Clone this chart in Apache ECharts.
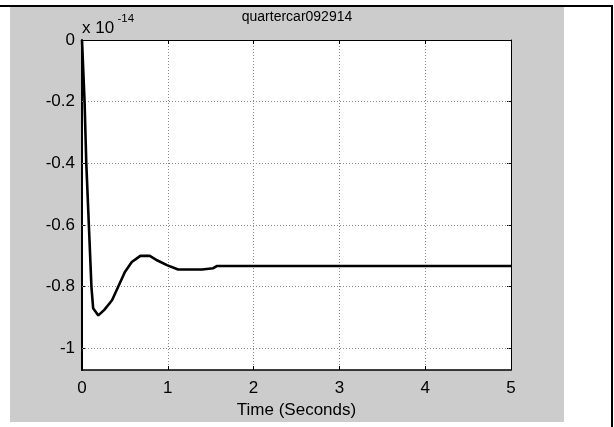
<!DOCTYPE html>
<html>
<head>
<meta charset="utf-8">
<script src="https://cdn.jsdelivr.net/npm/echarts@6/dist/echarts.min.js"></script>
<style>
  html, body { margin: 0; padding: 0; background: #ffffff; }
  #chart { width: 614px; height: 427px; }
</style>
</head>
<body>
<div id="chart"></div>
<script>
// Quarter-car step response (values in units of 1e-14)
const timeSec = [0, 0.03, 0.05, 0.08, 0.11, 0.13, 0.19, 0.26, 0.35, 0.50, 0.58, 0.68, 0.79, 0.88, 0.99, 1.12, 1.40, 1.42, 1.53, 1.57, 5];
const response = [0, -0.2, -0.4, -0.6, -0.8, -0.87, -0.893, -0.875, -0.844, -0.752, -0.72, -0.70, -0.70, -0.715, -0.73, -0.744, -0.744, -0.740, -0.740, -0.733, -0.733];
const xTicks = [0, 1, 2, 3, 4, 5];
const yTicks = [0, -0.2, -0.4, -0.6, -0.8, -1];
const yMin = -1.07;
const yMax = 0;
const titleText = 'quartercar092914';
const xLabel = 'Time (Seconds)';
const scaleBase = 'x 10';
const scaleExp = '-14';

const FONT = '"Liberation Sans", Arial, sans-serif';
const LABEL_SIZE = 17;
const chart = echarts.init(document.getElementById('chart'), null, { renderer: 'canvas' });

const gridLine = { show: true, lineStyle: { color: '#8a8a8a', width: 1, type: [1, 2] } };

const option = {
  backgroundColor: '#ffffff',
  animation: false,
  grid: {
    left: 82, right: 103, top: 40, bottom: 57,
    show: true, backgroundColor: '#ffffff', borderWidth: 0
  },
  graphic: [
    { type: 'rect', z: -10, shape: { x: 10, y: 7, width: 554, height: 415 }, style: { fill: '#cccccc' }, silent: true },
    { type: 'rect', z: 10, shape: { x: 0, y: 5, width: 613, height: 2 }, style: { fill: '#000000' }, silent: true },
    { type: 'rect', z: 10, shape: { x: 611, y: 5, width: 2, height: 422 }, style: { fill: '#000000' }, silent: true },
    {
      type: 'text', z: 10, x: 297, y: 17,
      style: { text: titleText, fontSize: 14, fontFamily: FONT, fill: '#000000', align: 'center', verticalAlign: 'middle' }
    },
    {
      type: 'text', z: 10, x: 82, y: 28,
      style: { text: scaleBase, fontSize: 17, fontFamily: FONT, fill: '#000000', align: 'left', verticalAlign: 'middle' }
    },
    {
      type: 'text', z: 10, x: 117.5, y: 19,
      style: { text: scaleExp, fontSize: 11.5, fontFamily: FONT, fill: '#000000', align: 'left', verticalAlign: 'middle' }
    }
  ],
  xAxis: [
    {
      type: 'value', position: 'bottom', min: 0, max: 5, interval: 1,
      axisLine: { show: true, onZero: false, lineStyle: { color: '#000000', width: 1.5 } },
      axisTick: { show: true, inside: true, length: 4, lineStyle: { color: '#000000' } },
      axisLabel: { show: true, margin: 10, color: '#000000', fontSize: LABEL_SIZE, fontFamily: FONT,
        customValues: xTicks, formatter: v => String(v) },
      splitLine: gridLine,
      name: xLabel, nameLocation: 'middle', nameGap: 31,
      nameTextStyle: { color: '#000000', fontSize: LABEL_SIZE, fontFamily: FONT, verticalAlign: 'top' }
    },
    {
      type: 'value', position: 'top', min: 0, max: 5, interval: 1,
      axisLine: { show: true, onZero: false, lineStyle: { color: '#000000', width: 1 } },
      axisTick: { show: true, inside: true, length: 4, lineStyle: { color: '#000000' } },
      axisLabel: { show: false },
      splitLine: { show: false }
    }
  ],
  yAxis: [
    {
      type: 'value', position: 'left', min: yMin, max: yMax,
      axisLine: { show: true, onZero: false, lineStyle: { color: '#000000', width: 2 } },
      axisTick: { show: true, inside: true, length: 4, customValues: yTicks, lineStyle: { color: '#000000' } },
      axisLabel: { show: true, margin: 7, color: '#000000', fontSize: LABEL_SIZE, fontFamily: FONT,
        customValues: yTicks, formatter: v => String(Math.round(v * 10) / 10) },
      splitLine: { show: false }
    },
    {
      type: 'value', position: 'right', min: yMin, max: yMax,
      axisLine: { show: true, onZero: false, lineStyle: { color: '#000000', width: 1 } },
      axisTick: { show: true, inside: true, length: 4, customValues: yTicks, lineStyle: { color: '#000000' } },
      axisLabel: { show: false },
      splitLine: { show: false }
    }
  ],
  series: [
    {
      type: 'line',
      xAxisIndex: 0, yAxisIndex: 0,
      data: timeSec.map((t, i) => [t, response[i]]),
      showSymbol: false,
      symbol: 'none',
      lineStyle: { color: '#000000', width: 2.6 },
      z: 5,
      markLine: {
        silent: true, symbol: 'none', label: { show: false },
        lineStyle: { color: '#8a8a8a', width: 1, type: [1, 2] },
        data: yTicks.filter(v => v !== 0).map(v => ({ yAxis: v }))
      }
    }
  ]
};

chart.setOption(option);
</script>
</body>
</html>
